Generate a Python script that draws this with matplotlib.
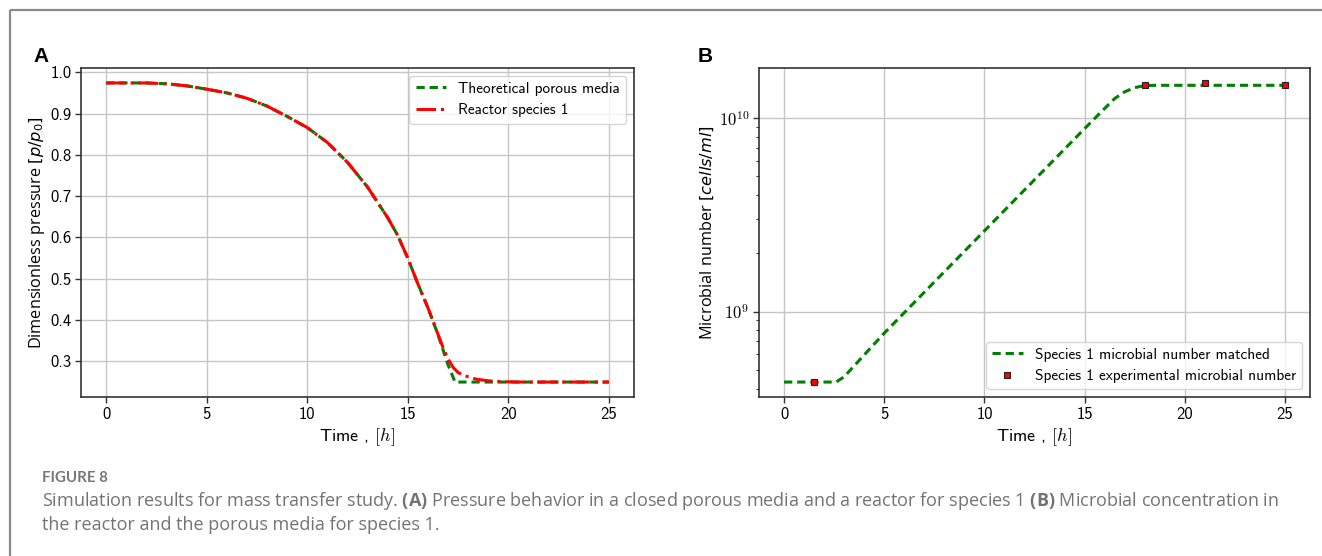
import math
import matplotlib
matplotlib.use("Agg")
import matplotlib.pyplot as plt
from matplotlib.ticker import FuncFormatter, NullFormatter, LogLocator

# ---------------- data ----------------
time_pressure = [0, 1, 2, 2.5, 3, 4, 5, 6, 7, 8, 9, 10, 11, 12, 13, 14, 14.5,
                 15, 15.5, 16, 16.5, 17, 17.35, 18, 20, 25]
theoretical_pressure = [0.974, 0.974, 0.974, 0.973, 0.972, 0.967, 0.959, 0.950,
                        0.937, 0.918, 0.893, 0.866, 0.830, 0.782, 0.722, 0.648,
                        0.605, 0.550, 0.488, 0.430, 0.365, 0.292, 0.250, 0.250,
                        0.250, 0.250]

time_reactor = [0, 1, 2, 2.5, 3, 4, 5, 6, 7, 8, 9, 10, 11, 12, 13, 14, 14.5,
                15, 15.5, 16, 16.5, 16.75, 17, 17.25, 17.5, 17.85, 18.4, 19,
                19.6, 20.5, 25]
reactor_pressure = [0.974, 0.974, 0.974, 0.973, 0.972, 0.967, 0.959, 0.950,
                    0.937, 0.918, 0.893, 0.866, 0.830, 0.782, 0.722, 0.648,
                    0.605, 0.550, 0.488, 0.430, 0.366, 0.334, 0.306, 0.286,
                    0.273, 0.265, 0.257, 0.253, 0.251, 0.250, 0.250]

time_microbial = [0, 1, 2, 2.6, 3, 5, 10, 15, 16, 16.5, 17, 17.5, 18, 18.5, 20, 25]
microbial_matched = [4.32e8, 4.32e8, 4.32e8, 4.32e8, 4.6e8, 7.73e8, 2.61e9,
                     8.81e9, 1.12e10, 1.26e10, 1.365e10, 1.435e10, 1.47e10,
                     1.475e10, 1.475e10, 1.475e10]

time_experimental = [1.5, 18, 21, 25]
microbial_experimental = [4.32e8, 1.476e10, 1.517e10, 1.486e10]

x_ticks = [0, 5, 10, 15, 20, 25]
pressure_ticks = [0.3, 0.4, 0.5, 0.6, 0.7, 0.8, 0.9, 1.0]

caption_title = "FIGURE 8"
caption_line1 = (r"Simulation results for mass transfer study. $\mathbf{(A)}$ Pressure behavior "
                 r"in a closed porous media and a reactor for species 1 $\mathbf{(B)}$ Microbial "
                 r"concentration in")
caption_line2 = "the reactor and the porous media for species 1."

# ---------------- style ----------------
plt.rcParams["mathtext.fontset"] = "cm"
plt.rcParams["axes.unicode_minus"] = False
plt.rcParams["mathtext.rm"] = "Open Sans"
plt.rcParams["mathtext.bf"] = "Open Sans:bold"
plt.rcParams["mathtext.it"] = "Open Sans:italic"

TICK_FONT = "cmss10"
GREEN = "green"
RED = "red"
W, H = 1322, 556

fig = plt.figure(figsize=(W / 100, H / 100), dpi=100)

# background overlay for the frame and caption (pixel coordinates)
bg = fig.add_axes([0, 0, 1, 1], zorder=-5)
bg.set_xlim(0, W)
bg.set_ylim(H, 0)
bg.axis("off")
bg.plot([9.5, W], [10, 10], color="#8a8a8a", lw=1.6, solid_capstyle="butt")
bg.plot([9.5, 9.5], [10, H], color="#8a8a8a", lw=1.6, solid_capstyle="butt")

bg.text(42, 482, caption_title, fontfamily="Lato", fontweight="bold",
        fontsize=10.8, color="#777777", va="baseline", ha="left")
bg.text(42, 506, caption_line1, fontfamily="Open Sans", fontsize=13,
        color="#737373", va="baseline", ha="left", math_fontfamily="custom")
bg.text(42, 530, caption_line2, fontfamily="Open Sans", fontsize=13,
        color="#737373", va="baseline", ha="left")

# panel letters
bg.text(33, 62, "A", fontfamily="Liberation Sans", fontweight="bold",
        fontsize=15, va="baseline", ha="left")
bg.text(698, 62, "B", fontfamily="Liberation Sans", fontweight="bold",
        fontsize=15, va="baseline", ha="left")


def px_rect(left, top, right, bottom):
    return [left / W, (H - bottom) / H, (right - left) / W, (bottom - top) / H]


def style_axes(ax):
    ax.grid(True, color="#c6c6c6", lw=1.0)
    ax.set_axisbelow(True)
    for sp in ax.spines.values():
        sp.set_color("#333333")
        sp.set_linewidth(1.2)
    ax.tick_params(which="major", length=4, width=1, color="#333333",
                   labelsize=12, labelfontfamily=TICK_FONT, pad=3)
    ax.set_xticks(x_ticks)
    ax.set_xlabel(r"Time , $[h]$", fontfamily=TICK_FONT, math_fontfamily="cm",
                  fontsize=13, labelpad=3)


# ---------------- panel A ----------------
axA = fig.add_axes(px_rect(81, 68, 634, 397))
axA.plot(time_pressure, theoretical_pressure, color=GREEN, lw=2.2,
         ls=(0, (2.7, 1.6)), label="Theoretical porous media", zorder=3)
axA.plot(time_reactor, reactor_pressure, color=RED, lw=2.2, ls="-.",
         label="Reactor species 1", zorder=4)
style_axes(axA)
axA.set_yticks(pressure_ticks)
axA.set_ylabel(r"Dimensionless pressure $[p/p_0]$", fontfamily="Open Sans",
               math_fontfamily="dejavusans", fontsize=11.7, labelpad=2)
axA.legend(loc="upper right", prop={"family": TICK_FONT, "size": 11})

# ---------------- panel B ----------------
axB = fig.add_axes(px_rect(759, 68, 1310, 397))
axB.set_yscale("log")
axB.plot(time_microbial, microbial_matched, color=GREEN, lw=2.2,
         ls=(0, (2.7, 1.6)), label="Species 1 microbial number matched", zorder=3)
axB.plot(time_experimental, microbial_experimental, ls="none", marker="s",
         ms=5, mfc=RED, mec="#222222", mew=0.8,
         label="Species 1 experimental microbial number", zorder=4)
style_axes(axB)
axB.yaxis.set_major_locator(LogLocator(base=10))
axB.yaxis.set_major_formatter(FuncFormatter(lambda v, p: r"$10^{%d}$" % round(math.log10(v))))
axB.yaxis.set_minor_formatter(NullFormatter())
axB.tick_params(axis="y", which="minor", length=2.5, width=0.8, color="#333333")
axB.set_ylabel(r"Microbial number $[cells/ml]$", fontfamily="Open Sans",
               math_fontfamily="dejavusans", fontsize=11.7, labelpad=2)
axB.legend(loc="lower right", prop={"family": TICK_FONT, "size": 11})

fig.savefig("out.png", dpi=100)
